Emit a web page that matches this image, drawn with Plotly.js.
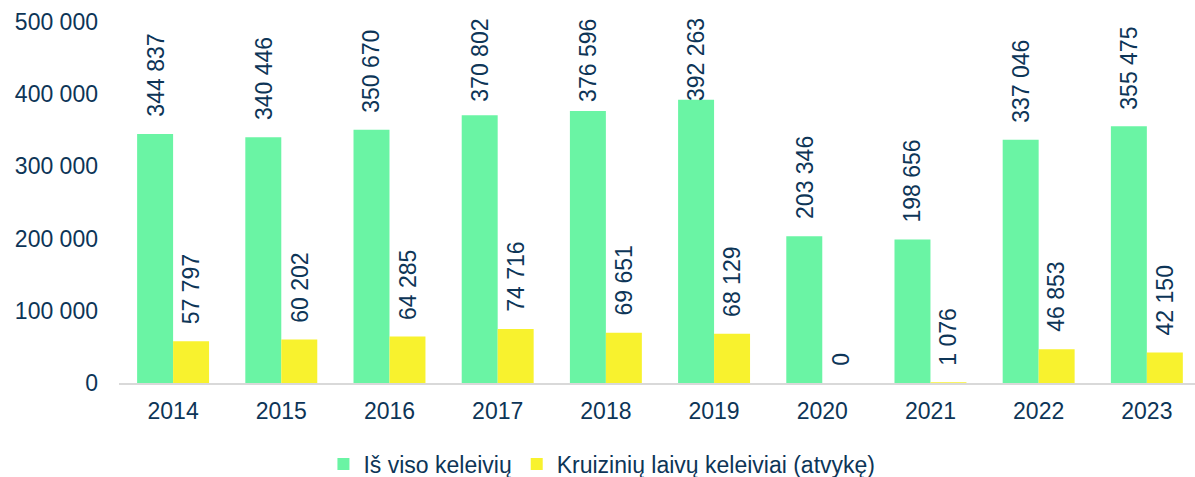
<!DOCTYPE html>
<html>
<head>
<meta charset="utf-8">
<script src="https://cdn.plot.ly/plotly-3.0.1.min.js"></script>
<style>html,body{margin:0;padding:0;background:#fff;}#chart{width:1195px;height:477px;}</style>
</head>
<body>
<div id="chart"></div>
<script>
// ---- data ----
const years = ['2014','2015','2016','2017','2018','2019','2020','2021','2022','2023'];
const totalPassengers = [344837, 340446, 350670, 370802, 376596, 392263, 203346, 198656, 337046, 355475];
const cruisePassengers = [57797, 60202, 64285, 74716, 69651, 68129, 0, 1076, 46853, 42150];
const seriesNames = ['Iš viso keleivių', 'Kruizinių laivų keleiviai (atvykę)'];
const yTickVals = [0, 100000, 200000, 300000, 400000, 500000];
const yTickText = ['0', '100 000', '200 000', '300 000', '400 000', '500 000'];

// ---- style ----
const GREEN = '#6AF4A4';
const YELLOW = '#F8F22E';
const TEXT = '#0D3557';
const FONT = 'Liberation Sans, Arial, sans-serif';
const FS = 23;
const W = 1195, H = 477;
const M = {l: 119, r: 0, t: 21.5, b: 94};
const yMax = 500000;
const plotH = H - M.t - M.b;

function fmt(v) {
  return String(v).replace(/\B(?=(\d{3})+(?!\d))/g, ' ');
}
function textLen(s) {
  let w = 0;
  for (const c of s) w += (c === ' ') ? 0.278 : 0.556;
  return w * FS;
}
function ypx(v) { return M.t + plotH * (1 - v / yMax); }

const GAP = 16, TOPLIM = 17;
function makeLabel(i, v, shift) {
  const s = fmt(v);
  const L = textLen(s);
  const bottom = ypx(v) - GAP;
  const base = {x: i, xref: 'x', yref: 'y', text: s, textangle: -90, showarrow: false,
    xshift: shift, font: {family: FONT, size: FS, color: TEXT}, borderpad: 0};
  if (bottom - L < TOPLIM) {
    return Object.assign(base, {y: yMax, yanchor: 'top', yshift: M.t - TOPLIM});
  }
  return Object.assign(base, {y: v, yanchor: 'bottom', yshift: GAP});
}

const annotations = [];
totalPassengers.forEach((v, i) => annotations.push(makeLabel(i, v, -18)));
cruisePassengers.forEach((v, i) => annotations.push(makeLabel(i, v, 18)));

const traces = [
  {type: 'bar', name: seriesNames[0], x: years, y: totalPassengers, marker: {color: GREEN}, hoverinfo: 'none'},
  {type: 'bar', name: seriesNames[1], x: years, y: cruisePassengers, marker: {color: YELLOW}, hoverinfo: 'none'}
];

const layout = {
  width: W, height: H,
  margin: M,
  paper_bgcolor: '#fff', plot_bgcolor: '#fff',
  font: {family: FONT, size: FS, color: TEXT},
  barmode: 'group', bargap: 0.335, bargroupgap: 0,
  showlegend: true,
  legend: {orientation: 'h', xref: 'paper', x: 0.19, xanchor: 'left',
    yref: 'container', y: 1 - 464 / 477, yanchor: 'middle',
    font: {family: FONT, size: FS, color: TEXT}, itemwidth: 30, traceorder: 'normal'},
  xaxis: {type: 'category', range: [-0.5, 9.445], showline: true, linecolor: '#D9D9D9', linewidth: 2,
    ticks: '', showgrid: false, zeroline: false, automargin: false,
    tickfont: {family: FONT, size: FS, color: TEXT}, ticklabelstandoff: 6},
  yaxis: {range: [0, yMax], tickvals: yTickVals, ticktext: yTickText, showgrid: false, zeroline: false,
    showline: false, ticks: '', automargin: false,
    tickfont: {family: FONT, size: FS, color: TEXT}, ticklabelstandoff: 20},
  annotations: annotations
};

Plotly.newPlot('chart', traces, layout, {displayModeBar: false, staticPlot: true});
</script>
</body>
</html>
